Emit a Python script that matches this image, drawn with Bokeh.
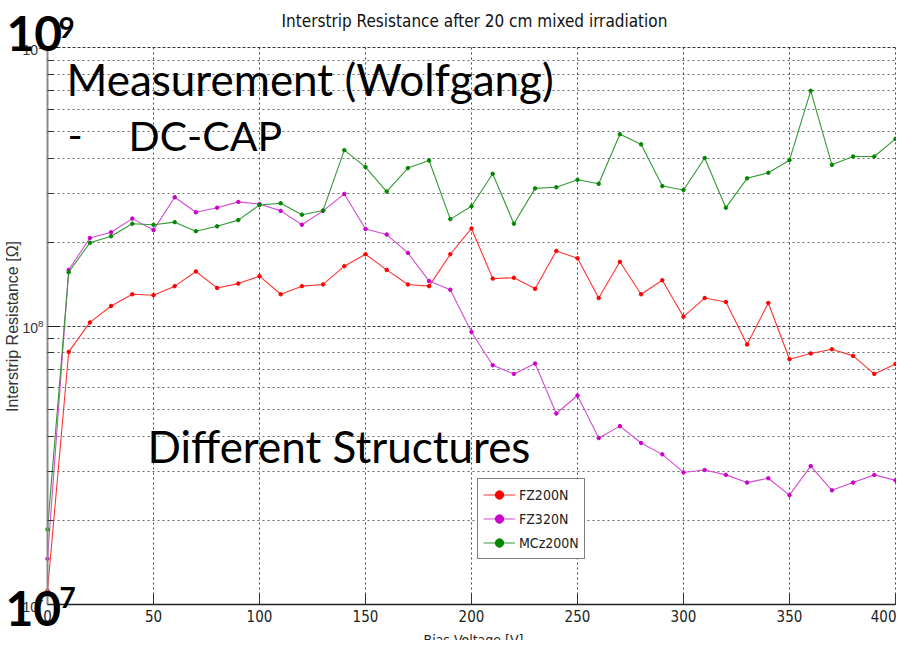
from bokeh.plotting import figure
from bokeh.models import Label, Legend, LegendItem, FixedTicker, Range1d
from bokeh.embed import file_html
from bokeh.resources import INLINE

# ---------------- data ----------------
bias_voltage = [0, 10, 20, 30, 40, 50, 60, 70, 80, 90, 100, 110, 120, 130, 140,
                150, 160, 170, 180, 190, 200, 210, 220, 230, 240, 250, 260, 270,
                280, 290, 300, 310, 320, 330, 340, 350, 360, 370, 380, 390, 400]

fz200n = [1.12e7, 8.07e7, 1.03e8, 1.18e8, 1.30e8, 1.29e8, 1.39e8, 1.57e8, 1.37e8, 1.42e8,
          1.51e8, 1.30e8, 1.39e8, 1.41e8, 1.64e8, 1.81e8, 1.59e8, 1.41e8, 1.39e8, 1.81e8,
          2.24e8, 1.48e8, 1.49e8, 1.36e8, 1.86e8, 1.75e8, 1.26e8, 1.70e8, 1.30e8, 1.46e8,
          1.08e8, 1.26e8, 1.22e8, 8.58e7, 1.21e8, 7.60e7, 7.97e7, 8.25e7, 7.81e7, 6.73e7,
          7.31e7]

fz320n = [1.46e7, 1.59e8, 2.07e8, 2.17e8, 2.43e8, 2.21e8, 2.90e8, 2.56e8, 2.66e8, 2.79e8,
          2.74e8, 2.59e8, 2.31e8, 2.59e8, 2.98e8, 2.23e8, 2.13e8, 1.83e8, 1.45e8, 1.35e8,
          9.52e7, 7.23e7, 6.73e7, 7.33e7, 4.85e7, 5.63e7, 3.96e7, 4.37e7, 3.80e7, 3.46e7,
          2.98e7, 3.04e7, 2.92e7, 2.74e7, 2.84e7, 2.47e7, 3.14e7, 2.57e7, 2.74e7, 2.92e7,
          2.79e7]

mcz200n = [1.86e7, 1.56e8, 1.99e8, 2.10e8, 2.33e8, 2.31e8, 2.36e8, 2.19e8, 2.28e8, 2.40e8,
           2.72e8, 2.76e8, 2.51e8, 2.60e8, 4.28e8, 3.72e8, 3.04e8, 3.69e8, 3.93e8, 2.42e8,
           2.69e8, 3.52e8, 2.33e8, 3.12e8, 3.15e8, 3.35e8, 3.24e8, 4.88e8, 4.49e8, 3.18e8,
           3.08e8, 4.01e8, 2.66e8, 3.39e8, 3.55e8, 3.94e8, 6.99e8, 3.79e8, 4.06e8, 4.06e8,
           4.70e8]

series_names = ["FZ200N", "FZ320N", "MCz200N"]
x_ticks = [0, 50, 100, 150, 200, 250, 300, 350, 400]
y_major_ticks = [1e7, 1e8, 1e9]
y_minor_ticks = [2e7, 3e7, 4e7, 5e7, 6e7, 7e7, 8e7, 9e7,
                 2e8, 3e8, 4e8, 5e8, 6e8, 7e8, 8e8, 9e8]
x_limits = (0, 400)
y_limits = (1e7, 1e9)

title_text = "Interstrip Resistance after 20 cm mixed irradiation"
x_label_text = "Bias Voltage [V]"
y_label_text = "Interstrip Resistance [\u03a9]"

# ---------------- layout (pixels on the canvas) ----------------
W, H = 896, 640
AX_L, AX_R, AX_T, AX_B = 47, 895, 47, 604      # data area inside the canvas
px_per_x = (AX_R - AX_L) / (x_limits[1] - x_limits[0])
px_per_dec = (AX_B - AX_T) / 2.0
x_start = x_limits[0] - AX_L / px_per_x
x_end = x_limits[1] + (W - AX_R) / px_per_x
y_top = 10 ** (9 + AX_T / px_per_dec)
y_bot = 10 ** (7 - (H - AX_B) / px_per_dec)

NARROW = "'DejaVu Sans Condensed', 'Liberation Sans Narrow', sans-serif"
BIG = "Lato"

p = figure(width=W, height=H, output_backend="svg", toolbar_location=None,
           x_range=Range1d(x_start, x_end), y_range=Range1d(y_bot, y_top),
           y_axis_type="log",
           min_border_left=0, min_border_right=0, min_border_top=0,
           min_border_bottom=0)
p.outline_line_color = None
p.background_fill_color = "white"
p.border_fill_color = "white"

xaxis = p.xaxis[0]
xaxis.ticker = FixedTicker(ticks=x_ticks)
xaxis.fixed_location = y_limits[0]
xaxis.bounds = x_limits
xaxis.axis_line_color = "#222222"
xaxis.axis_line_width = 1.5
xaxis.major_tick_in = 11
xaxis.major_tick_out = 0
xaxis.major_tick_line_color = "#333333"
xaxis.minor_tick_line_color = None
xaxis.major_label_standoff = 5
xaxis.major_label_text_font = NARROW
xaxis.major_label_text_font_size = "15px"
xaxis.major_label_text_color = "#222222"

yaxis = p.yaxis[0]
yaxis.ticker = FixedTicker(ticks=y_major_ticks, minor_ticks=y_minor_ticks)
yaxis.fixed_location = x_limits[0]
yaxis.bounds = y_limits
yaxis.axis_line_color = "#8a8a8a"
yaxis.axis_line_width = 2
yaxis.major_tick_in = 11
yaxis.major_tick_out = 0
yaxis.minor_tick_in = 6
yaxis.minor_tick_out = 0
yaxis.major_tick_line_color = "#222222"
yaxis.minor_tick_line_color = "#333333"
yaxis.major_label_standoff = 4
yaxis.major_label_text_font = "Liberation Sans"
yaxis.major_label_text_font_size = "14px"
yaxis.major_label_text_color = "#333333"

xg = p.xgrid[0]
xg.ticker = FixedTicker(ticks=x_ticks)
xg.cross_bounds = y_limits
xg.grid_line_color = "#444444"
xg.grid_line_dash = "2 3"
yg = p.ygrid[0]
yg.ticker = FixedTicker(ticks=y_major_ticks, minor_ticks=y_minor_ticks)
yg.cross_bounds = x_limits
yg.grid_line_color = "#333333"
yg.grid_line_dash = "3 2"
yg.minor_grid_line_color = "#666666"
yg.minor_grid_line_dash = "2 3"

colors = ["#ff0000", "#cc00cc", "#008800"]
line_colors = ["#ff3333", "#d24bd2", "#339933"]
items = []
for name, ys, c, lc in zip(series_names, [fz200n, fz320n, mcz200n], colors, line_colors):
    r1 = p.line(bias_voltage, ys, line_color=lc, line_width=1.1)
    r2 = p.scatter(bias_voltage, ys, marker="circle", size=3.5, fill_color=c,
                   line_color=c)
    items.append(LegendItem(label=name, renderers=[r1, r2]))


def sx(img_x):
    return img_x


def sy(img_y):
    return H - img_y


legend = Legend(items=items, location=(sx(477), sy(559)))
legend.border_line_color = "black"
legend.border_line_width = 1
legend.background_fill_color = "white"
legend.background_fill_alpha = 1
legend.label_text_font = NARROW
legend.label_text_font_size = "14px"
legend.label_text_color = "#222222"
legend.glyph_width = 32
legend.glyph_height = 21
legend.label_height = 21
legend.label_standoff = 4
legend.padding = 5
legend.spacing = 3
legend.margin = 0
p.add_layout(legend, "center")


def lab(text, ix, iy, font, size, style="normal", align="left", baseline="top",
        angle=0, color="black"):
    p.add_layout(Label(x=sx(ix), y=sy(iy), x_units="screen", y_units="screen",
                       text=text, text_font=font, text_font_size=size,
                       text_font_style=style, text_align=align,
                       text_baseline=baseline, angle=angle, text_color=color))


lab(title_text, 474, 10, NARROW, "17px", color="#111111", align="center")
lab(x_label_text, 473, 631, NARROW, "14px", color="#222222", align="center")
lab(y_label_text, 12, 326, "Liberation Sans", "16px", color="#333333",
    align="center", baseline="middle", angle=1.5708)

lab("Measurement (Wolfgang)", 66, 52, BIG, "44px")
lab("-", 67, 120, BIG, "41px")
lab("DC-CAP", 128, 110, BIG, "41px")
lab("Different Structures", 147, 419, BIG, "44px")

lab("10", 6, 15, BIG, "48px", style="bold")
lab("9", 58, 16, BIG, "28px", style="bold")
lab("10", 5, 590, BIG, "48px", style="bold")
lab("7", 59, 586, BIG, "28px", style="bold")

open("out.html", "w").write(file_html(p, INLINE))
